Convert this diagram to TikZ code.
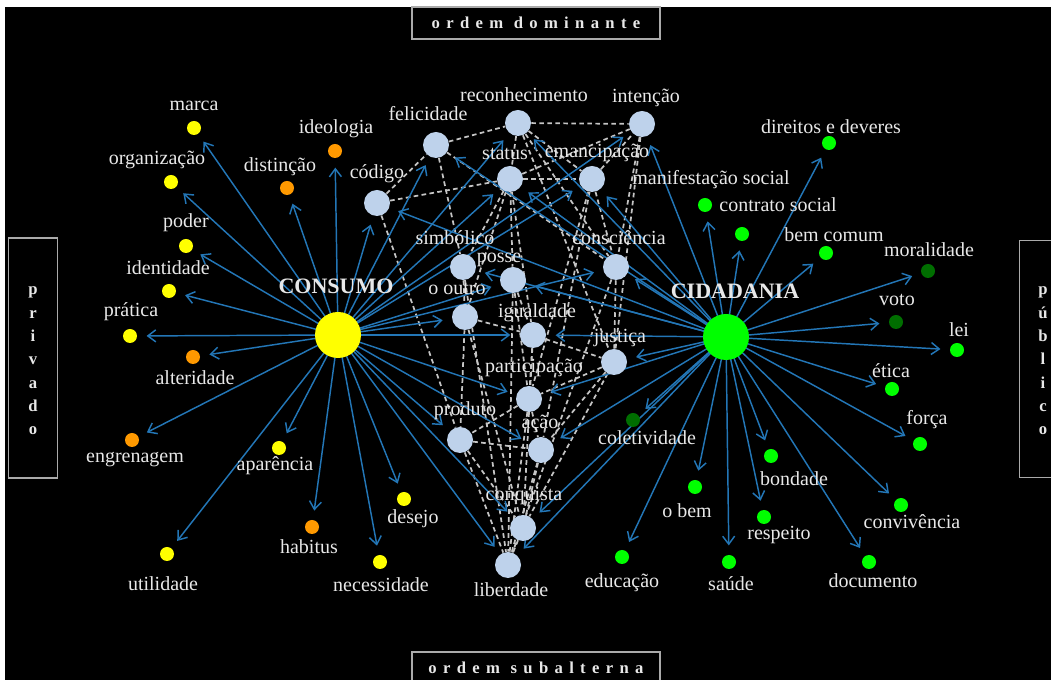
\documentclass[tikz,border=0pt]{standalone}
\usepackage{fontspec}
\setmainfont{Liberation Serif}
\usetikzlibrary{arrows.meta}
\definecolor{txt}{RGB}{232,232,232}
\definecolor{ylw}{RGB}{255,255,0}
\definecolor{org}{RGB}{255,153,0}
\definecolor{grn}{RGB}{0,255,0}
\definecolor{dgrn}{RGB}{0,110,0}
\definecolor{lbl}{RGB}{190,210,235}
\definecolor{arrblue}{RGB}{35,118,182}
\definecolor{boxgray}{RGB}{170,170,170}
\pgfdeclarelayer{back}
\pgfdeclarelayer{edges}
\pgfsetlayers{back,edges,main}
\begin{document}
\begin{tikzpicture}[x=0.75pt,y=-0.75pt,
  lab/.style={text=txt,inner sep=0pt,font=\fontsize{15}{17}\selectfont},
  big/.style={circle,minimum size=34.5pt,inner sep=0pt},
  mesh/.style={circle,fill=lbl,minimum size=19.5pt,inner sep=0pt},
  sm/.style={circle,minimum size=10.5pt,inner sep=0pt},
  arr/.style={draw=arrblue,line width=1.1pt,-{Straight Barb[length=6pt,width=9pt]},shorten >=7pt},
  dsh/.style={draw=txt!85!black,line width=1.3pt,dash pattern=on 3.5pt off 2.5pt},
  framebox/.style={draw=boxgray,line width=1pt,fill=black},
  boxtxt/.style={text=txt,font=\fontsize{12.5}{14}\selectfont\bfseries}
]
\useasboundingbox (0,0) rectangle (1051,680);
\begin{pgfonlayer}{back}
\fill[white] (0,0) rectangle (1051,680);
\fill[black] (5,7) rectangle (1051,680);
\end{pgfonlayer}

% frames
\node[framebox,minimum width=186pt,minimum height=24pt] (topbox) at (536,23) {};
\node[boxtxt] (topt) at (536,23) {\addfontfeature{LetterSpace=38}ordem dominante};
\node[framebox,minimum width=186pt,minimum height=24pt] (botbox) at (536,668) {};
\node[boxtxt] (bott) at (536,668) {\addfontfeature{LetterSpace=38}ordem subalterna};
\node[framebox,minimum width=37pt,minimum height=180pt] (lbox) at (33,358) {};
\node[boxtxt,align=center,font=\fontsize{12.5}{17.5}\selectfont\bfseries] (lt) at (33,361) {p\\r\\i\\v\\a\\d\\o};
\node[framebox,minimum width=37pt,minimum height=178pt] (rbox) at (1044,359) {};
\node[boxtxt,align=center,font=\fontsize{12.5}{17.5}\selectfont\bfseries] (rt) at (1043,361) {p\\ú\\b\\l\\i\\c\\o};

% big nodes
\node[big,fill=ylw] (CS) at (338,335) {};
\node[big,fill=grn] (CD) at (726,337) {};
\node[text=txt,font=\fontsize{16.5}{18}\selectfont\bfseries] (CSl) at (336,286) {CONSUMO};
\node[text=txt,font=\fontsize{16.5}{18}\selectfont\bfseries] (CDl) at (735,291) {CIDADANIA};

% mesh nodes
\node[mesh] (fel) at (436,145) {};
\node[mesh] (rec) at (518,123) {};
\node[mesh] (int) at (642,124) {};
\node[mesh] (cod) at (377,203) {};
\node[mesh] (sta) at (510,179) {};
\node[mesh] (ema) at (592,179) {};
\node[mesh] (sim) at (463,267) {};
\node[mesh] (consc) at (616,267) {};
\node[mesh] (pos) at (513,280) {};
\node[mesh] (out) at (465,317) {};
\node[mesh] (igu) at (533,335) {};
\node[mesh] (jus) at (614,362) {};
\node[mesh] (par) at (529,399) {};
\node[mesh] (pro) at (460,440) {};
\node[mesh] (aca) at (541,450) {};
\node[mesh] (conq) at (523,528) {};
\node[mesh] (lib) at (508,565) {};

% left small nodes
\node[sm,fill=ylw] (marca) at (194,128) {};
\node[sm,fill=ylw] (organ) at (171,182) {};
\node[sm,fill=ylw] (poder) at (186,246) {};
\node[sm,fill=ylw] (ident) at (169,291) {};
\node[sm,fill=ylw] (prat) at (130,336) {};
\node[sm,fill=org] (alter) at (193,357) {};
\node[sm,fill=org] (engr) at (132,440) {};
\node[sm,fill=ylw] (apar) at (279,448) {};
\node[sm,fill=org] (habit) at (312,527) {};
\node[sm,fill=ylw] (util) at (167,554) {};
\node[sm,fill=ylw] (desejo) at (404,499) {};
\node[sm,fill=ylw] (neces) at (380,562) {};
\node[sm,fill=org] (ideol) at (335,151) {};
\node[sm,fill=org] (dist) at (287,188) {};

% right small nodes
\node[sm,fill=grn] (dir) at (829,143) {};
\node[sm,fill=grn] (contr) at (705,205) {};
\node[sm,fill=grn] (manif) at (742,234) {};
\node[sm,fill=grn] (bemc) at (826,253) {};
\node[sm,fill=dgrn] (moral) at (928,271) {};
\node[sm,fill=dgrn] (voto) at (896,322) {};
\node[sm,fill=grn] (lei) at (957,350) {};
\node[sm,fill=grn] (etica) at (892,389) {};
\node[sm,fill=grn] (forca) at (920,444) {};
\node[sm,fill=grn] (bond) at (771,456) {};
\node[sm,fill=grn] (obem) at (695,487) {};
\node[sm,fill=grn] (resp) at (764,517) {};
\node[sm,fill=grn] (conv) at (901,505) {};
\node[sm,fill=grn] (saude) at (729,562) {};
\node[sm,fill=grn] (doc) at (869,562) {};
\node[sm,fill=grn] (educ) at (622,557) {};
\node[sm,fill=dgrn] (colet) at (633,420) {};

% labels
\node[lab] (marcaL) at (194,106) {marca};
\node[lab] (organL) at (157,160) {organização};
\node[lab] (poderL) at (186,223) {poder};
\node[lab] (identL) at (168,268) {identidade};
\node[lab] (pratL) at (131,312) {prática};
\node[lab] (alterL) at (195,378) {alteridade};
\node[lab] (engrL) at (135,460) {engrenagem};
\node[lab] (aparL) at (275,466) {aparência};
\node[lab] (habitL) at (309,547) {habitus};
\node[lab] (utilL) at (163,584) {utilidade};
\node[lab] (necesL) at (381,585) {necessidade};
\node[lab] (desejoL) at (413,519) {desejo};
\node[lab] (distL) at (280,167) {distinção};
\node[lab] (ideolL) at (336,129) {ideologia};
\node[lab] (codL) at (377,174) {código};
\node[lab] (felL) at (428,114) {felicidade};
\node[lab] (recL) at (524,95) {reconhecimento};
\node[lab] (intL) at (646,98) {intenção};
\node[lab] (staL) at (505,154) {status};
\node[lab] (emaL) at (597,153) {emancipação};
\node[lab] (manifL) at (711,180) {manifestação social};
\node[lab] (simL) at (455,238) {simbólico};
\node[lab] (conscL) at (619,238) {consciência};
\node[lab] (posL) at (499,260) {posse};
\node[lab] (outL) at (457,289) {o outro};
\node[lab] (iguL) at (537,313) {igualdade};
\node[lab] (jusL) at (620,338) {justiça};
\node[lab] (parL) at (534,368) {participação};
\node[lab] (proL) at (465,411) {produto};
\node[lab] (acaL) at (540,424) {ação};
\node[lab] (conqL) at (524,496) {conquista};
\node[lab] (libL) at (511,590) {liberdade};
\node[lab] (coletL) at (647,438) {coletividade};
\node[lab] (dirL) at (831,127) {direitos e deveres};
\node[lab] (contrL) at (778,205) {contrato social};
\node[lab] (bemcL) at (834,235) {bem comum};
\node[lab] (moralL) at (929,250) {moralidade};
\node[lab] (votoL) at (897,300) {voto};
\node[lab] (leiL) at (959,330) {lei};
\node[lab] (eticaL) at (891,371) {ética};
\node[lab] (forcaL) at (927,420) {força};
\node[lab] (bondL) at (794,479) {bondade};
\node[lab] (obemL) at (687,511) {o bem};
\node[lab] (respL) at (779,535) {respeito};
\node[lab] (convL) at (912,522) {convivência};
\node[lab] (saudeL) at (731,584) {saúde};
\node[lab] (docL) at (873,581) {documento};
\node[lab] (educL) at (622,583) {educação};

\begin{pgfonlayer}{edges}
% dashed mesh
\foreach \a/\b in {cod/fel,fel/rec,rec/int,cod/sta,sta/ema,sta/int,rec/ema,rec/sta,ema/int,
  fel/sim,fel/consc,cod/pro,sta/sim,sta/pos,sta/igu,sta/out,rec/consc,rec/jus,int/consc,int/jus,
  ema/par,ema/consc,sim/out,pos/igu,pos/par,pos/lib,out/igu,out/pro,out/conq,igu/par,igu/jus,
  jus/par,jus/aca,jus/conq,consc/jus,consc/lib,par/pro,par/aca,par/lib,pro/aca,pro/conq,pro/lib,
  aca/conq,aca/lib,conq/lib,sim/lib,igu/conq,ema/aca}
  \draw[dsh] (\a) -- (\b);
% consumo arrows
\foreach \t in {marca,organ,poder,ident,prat,alter,engr,apar,habit,util,neces,desejo,dist,ideol,
  cod,fel,rec,sta,int,ema,consc,pos,out,igu,par,pro,aca,conq,lib}
  \draw[arr] (CS.center) -- (\t);
% cidadania arrows
\foreach \t in {dir,contr,manif,bemc,moral,voto,lei,etica,forca,conv,doc,bond,resp,saude,obem,educ,colet,
  int,ema,rec,sta,fel,cod,consc,sim,pos,igu,jus,par,aca,conq,lib}
  \draw[arr] (CD.center) -- (\t);
\end{pgfonlayer}
\end{tikzpicture}
\end{document}
